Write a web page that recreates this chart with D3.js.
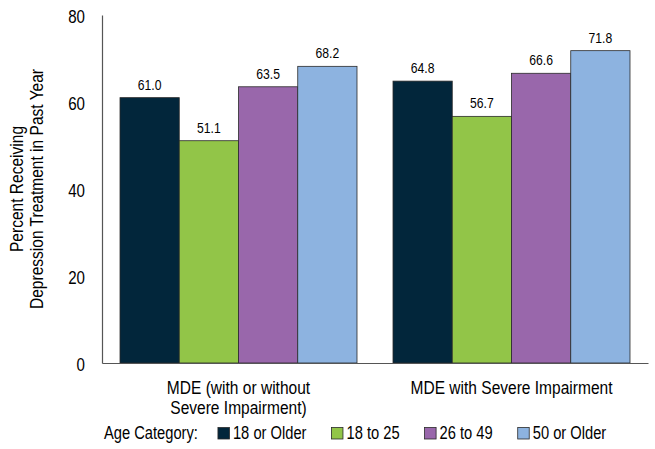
<!DOCTYPE html>
<html>
<head>
<meta charset="utf-8">
<script src="https://cdn.jsdelivr.net/npm/d3@7"></script>
<style>
  body { margin: 0; background: #fff; }
  svg text { font-family: "Liberation Sans", Arial, sans-serif; fill: #000; }
</style>
</head>
<body>
<div id="chart"></div>
<script>
// chart data
const categories = [["MDE (with or without", "Severe Impairment)"], ["MDE with Severe Impairment"]];
const ageGroups = ["18 or Older", "18 to 25", "26 to 49", "50 or Older"];
const values = [
    [61.0, 51.1, 63.5, 68.2],   // MDE (with or without severe impairment)
    [64.8, 56.7, 66.6, 71.8]    // MDE with severe impairment
];
const yTicks = [0, 20, 40, 60, 80];
const yTitle = ["Percent Receiving", "Depression Treatment in Past Year"];
const colors = ["#02263b", "#92c548", "#9967ab", "#8db3e0"];

const width = 655, height = 449;
const margin = { top: 15, right: 7, bottom: 86, left: 102 };
const SX = 0.84;   // horizontal squeeze to mimic a narrow font

// place a narrow text at (x, y)
const narrow = (parent, x, y, extra = '') =>
    parent.append('g')
        .attr('transform', `translate(${x},${y}) ${extra} scale(${SX},1)`)
        .append('text');

const svg = d3.select('#chart').append('svg')
    .attr('width', width)
    .attr('height', height);

const x0 = d3.scaleBand()
    .domain(d3.range(categories.length))
    .range([margin.left, width - margin.right]);

const x1 = d3.scaleBand()
    .domain(d3.range(ageGroups.length))
    .range([18, x0.bandwidth() - 18]);

const y = d3.scaleLinear()
    .domain([0, 80])
    .range([height - margin.bottom, margin.top]);

// bars
const groups = svg.selectAll('g.group')
    .data(values)
    .join('g')
    .attr('class', 'group')
    .attr('transform', (d, i) => `translate(${x0(i)},0)`);

groups.selectAll('rect')
    .data(d => d)
    .join('rect')
    .attr('x', (d, i) => x1(i))
    .attr('y', d => y(d))
    .attr('width', x1.bandwidth())
    .attr('height', d => y(0) - y(d))
    .attr('fill', (d, i) => colors[i])
    .attr('stroke', '#2a2a2a')
    .attr('stroke-width', 0.8);

groups.each(function (vals) {
    const g = d3.select(this);
    vals.forEach((v, i) => {
        narrow(g, x1(i) + x1.bandwidth() / 2, y(v) - 8)
            .attr('text-anchor', 'middle')
            .attr('font-size', 14.5)
            .text(v.toFixed(1));
    });
});

// y axis
const yAxis = svg.append('g')
    .attr('transform', `translate(${margin.left},0)`)
    .call(d3.axisLeft(y).tickValues(yTicks).tickSize(0).tickPadding(17));
yAxis.select('.domain').attr('stroke', '#555').attr('stroke-width', 1.2);
yAxis.selectAll('.tick text')
    .attr('font-size', 18)
    .attr('fill', '#000')
    .attr('x', -17 / SX)
    .attr('dy', '0.4em')
    .attr('transform', `scale(${SX},1)`);

// x axis
const xAxis = svg.append('g')
    .attr('transform', `translate(0,${y(0)})`)
    .call(d3.axisBottom(x0).tickSize(0).tickFormat(''));
xAxis.select('.domain').attr('stroke', '#555').attr('stroke-width', 1.2);

// category labels
categories.forEach((lines, i) => {
    lines.forEach((line, j) => {
        narrow(svg, x0(i) + x0.bandwidth() / 2, y(0) + 31 + j * 20)
            .attr('text-anchor', 'middle')
            .attr('font-size', 18.5)
            .text(line);
    });
});

// y title
yTitle.forEach((line, j) => {
    narrow(svg, 23 + j * 20, (y(0) + y(80)) / 2, 'rotate(-90)')
        .attr('text-anchor', 'middle')
        .attr('font-size', 18.5)
        .text(line);
});

// legend
const legend = svg.append('g').attr('transform', `translate(104,${height - 10})`);
const title = narrow(legend, 0, 0).attr('font-size', 17.5).text('Age Category:');
let lx = title.node().getComputedTextLength() * SX + 20;
ageGroups.forEach((name, i) => {
    legend.append('rect')
        .attr('x', lx)
        .attr('y', -11.5)
        .attr('width', 11.5)
        .attr('height', 11.5)
        .attr('fill', colors[i])
        .attr('stroke', '#2a2a2a')
        .attr('stroke-width', 0.8);
    const t = narrow(legend, lx + 15, 0)
        .attr('font-size', 17.5)
        .text(name);
    lx += 15 + t.node().getComputedTextLength() * SX + 25;
});
</script>
</body>
</html>
